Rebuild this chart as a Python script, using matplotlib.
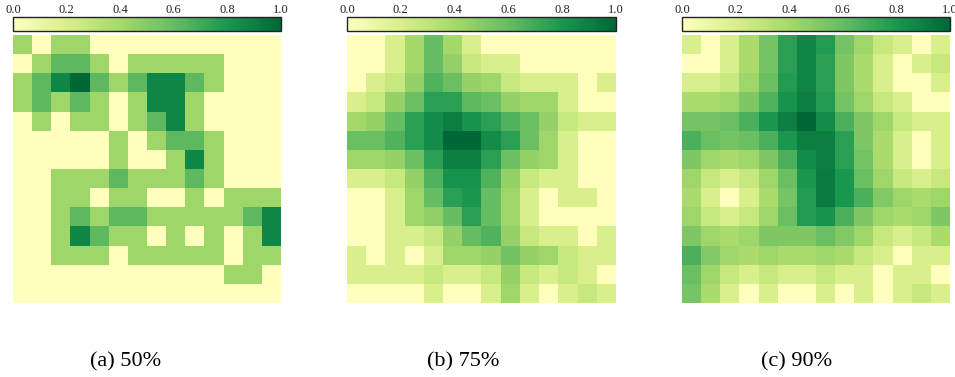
import numpy as np
import matplotlib
matplotlib.use("Agg")
import matplotlib.pyplot as plt
from matplotlib.colors import LinearSegmentedColormap

L, M, D, X = 0.42, 0.62, 0.87, 1.0

grid_50 = [
    [L, 0, L, L, 0, 0, 0, 0, 0, 0, 0, 0, 0, 0],
    [0, L, M, M, L, 0, L, L, L, L, L, 0, 0, 0],
    [L, M, D, X, M, L, M, D, D, M, L, 0, 0, 0],
    [L, M, L, M, L, 0, L, D, D, L, 0, 0, 0, 0],
    [0, L, 0, L, L, 0, L, M, D, L, 0, 0, 0, 0],
    [0, 0, 0, 0, 0, L, 0, L, M, M, L, 0, 0, 0],
    [0, 0, 0, 0, 0, L, 0, 0, L, D, L, 0, 0, 0],
    [0, 0, L, L, L, M, L, L, L, M, L, 0, 0, 0],
    [0, 0, L, L, 0, L, L, 0, 0, L, 0, L, L, L],
    [0, 0, L, M, L, M, M, L, L, L, L, L, M, D],
    [0, 0, L, D, M, L, L, 0, L, 0, L, 0, L, D],
    [0, 0, L, L, L, 0, L, L, L, L, L, 0, L, L],
    [0, 0, 0, 0, 0, 0, 0, 0, 0, 0, 0, L, L, 0],
    [0, 0, 0, 0, 0, 0, 0, 0, 0, 0, 0, 0, 0, 0],
]

grid_75 = [
    [0, 0, 0.2, 0.4, 0.6, 0.4, 0.2, 0, 0, 0, 0, 0, 0, 0],
    [0, 0, 0.2, 0.4, 0.6, 0.45, 0.27, 0.2, 0.2, 0, 0, 0, 0, 0],
    [0, 0.2, 0.27, 0.45, 0.65, 0.58, 0.45, 0.42, 0.27, 0.2, 0.2, 0.2, 0, 0.2],
    [0.2, 0.27, 0.45, 0.58, 0.75, 0.75, 0.62, 0.58, 0.45, 0.42, 0.42, 0.2, 0, 0],
    [0.4, 0.45, 0.6, 0.75, 0.85, 0.9, 0.82, 0.75, 0.65, 0.58, 0.45, 0.27, 0.2, 0.2],
    [0.58, 0.58, 0.65, 0.75, 0.85, 1.0, 1.0, 0.85, 0.75, 0.58, 0.42, 0.2, 0, 0],
    [0.42, 0.42, 0.45, 0.58, 0.75, 0.9, 0.9, 0.75, 0.58, 0.45, 0.42, 0.2, 0, 0],
    [0.2, 0.2, 0.27, 0.45, 0.65, 0.82, 0.82, 0.65, 0.45, 0.27, 0.2, 0.2, 0, 0],
    [0, 0, 0.2, 0.42, 0.6, 0.75, 0.8, 0.6, 0.42, 0.2, 0, 0.2, 0.2, 0],
    [0, 0, 0.2, 0.42, 0.47, 0.6, 0.75, 0.6, 0.42, 0.2, 0, 0, 0, 0],
    [0, 0, 0.2, 0.2, 0.27, 0.45, 0.6, 0.65, 0.45, 0.27, 0.2, 0.2, 0, 0.2],
    [0.2, 0, 0.2, 0, 0.2, 0.42, 0.42, 0.45, 0.56, 0.45, 0.42, 0.27, 0.2, 0.2],
    [0.2, 0.2, 0.2, 0.2, 0.27, 0.2, 0.2, 0.27, 0.45, 0.27, 0.2, 0.27, 0.2, 0],
    [0, 0, 0, 0, 0.2, 0, 0, 0.2, 0.42, 0.2, 0, 0.2, 0.27, 0.2],
]

grid_90 = [
    [0.2, 0, 0.2, 0.38, 0.55, 0.75, 0.88, 0.78, 0.55, 0.42, 0.27, 0.2, 0, 0.2],
    [0, 0, 0.2, 0.38, 0.55, 0.75, 0.88, 0.75, 0.52, 0.38, 0.2, 0, 0.2, 0.27],
    [0.2, 0.2, 0.27, 0.42, 0.58, 0.78, 0.88, 0.75, 0.52, 0.38, 0.2, 0, 0, 0.2],
    [0.38, 0.38, 0.42, 0.52, 0.65, 0.82, 0.9, 0.78, 0.55, 0.42, 0.27, 0.2, 0, 0],
    [0.55, 0.55, 0.58, 0.67, 0.8, 0.9, 1.0, 0.85, 0.67, 0.52, 0.42, 0.27, 0.2, 0.2],
    [0.67, 0.58, 0.55, 0.58, 0.67, 0.8, 0.9, 0.9, 0.75, 0.52, 0.38, 0.2, 0, 0.2],
    [0.52, 0.42, 0.38, 0.42, 0.52, 0.67, 0.85, 0.9, 0.75, 0.55, 0.38, 0.2, 0, 0.2],
    [0.42, 0.27, 0.2, 0.27, 0.42, 0.58, 0.8, 0.92, 0.8, 0.58, 0.42, 0.27, 0.2, 0.27],
    [0.38, 0.2, 0, 0.2, 0.38, 0.54, 0.78, 0.92, 0.8, 0.67, 0.51, 0.42, 0.38, 0.42],
    [0.42, 0.27, 0.2, 0.27, 0.42, 0.58, 0.78, 0.82, 0.67, 0.52, 0.42, 0.38, 0.42, 0.52],
    [0.52, 0.42, 0.38, 0.42, 0.52, 0.52, 0.52, 0.58, 0.51, 0.42, 0.27, 0.2, 0.27, 0.38],
    [0.67, 0.51, 0.42, 0.38, 0.42, 0.38, 0.38, 0.42, 0.38, 0.27, 0.2, 0, 0.2, 0.2],
    [0.58, 0.42, 0.27, 0.2, 0.27, 0.2, 0.2, 0.27, 0.2, 0.2, 0, 0.2, 0.2, 0],
    [0.54, 0.38, 0.2, 0, 0.2, 0, 0, 0.2, 0, 0.2, 0, 0.2, 0.27, 0.2],
]

captions = ["(a) 50%", "(b) 75%", "(c) 90%"]
cbar_ticks = [0.0, 0.2, 0.4, 0.6, 0.8, 1.0]
cbar_ticklabels = ["0.0", "0.2", "0.4", "0.6", "0.8", "1.0"]

plt.rcParams["font.family"] = ["Liberation Serif", "DejaVu Serif"]

base = plt.get_cmap("RdYlGn")
cmap = LinearSegmentedColormap.from_list("half_rdylgn", base(np.linspace(0.5, 1.0, 256)))

W, H = 955, 377
fig = plt.figure(figsize=(W / 100, H / 100), dpi=100)

def px_axes(x0, y0, x1, y1):
    return fig.add_axes([x0 / W, 1 - y1 / H, (x1 - x0) / W, (y1 - y0) / H])

panel_x = [(13, 281), (347, 616), (682, 950)]
caption_x = [126, 463, 797]

for grid, (x0, x1), cap, cx in zip([grid_50, grid_75, grid_90], panel_x, captions, caption_x):
    ax = px_axes(x0, 35, x1, 303)
    im = ax.imshow(np.array(grid), cmap=cmap, vmin=0, vmax=1, aspect="auto",
                   interpolation="nearest")
    ax.set_axis_off()
    cax = px_axes(x0, 17, x1, 30.5)
    cb = fig.colorbar(im, cax=cax, orientation="horizontal")
    cb.set_ticks(cbar_ticks)
    cb.set_ticklabels(cbar_ticklabels)
    cax.xaxis.set_ticks_position("top")
    cax.tick_params(axis="x", length=0, pad=1.0, labelsize=9, colors="#222222")
    cb.outline.set_linewidth(1.0)
    cb.outline.set_edgecolor("#222222")
    fig.text(cx / W, 1 - 362 / H, cap, ha="center", va="center", fontsize=16)

fig.savefig("out.png", dpi=100)
